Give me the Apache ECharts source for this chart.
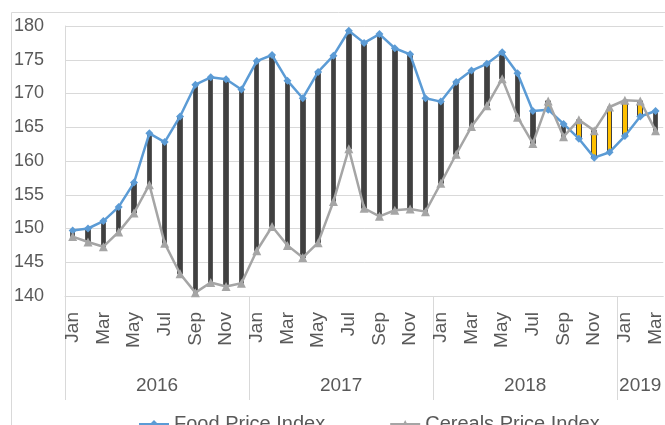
<!DOCTYPE html>
<html>
<head>
<meta charset="utf-8">
<script src="https://cdn.jsdelivr.net/npm/echarts@6/dist/echarts.min.js"></script>
<style>
  html, body { margin: 0; padding: 0; background: #fff; }
  #main { width: 665px; height: 425px; }
</style>
</head>
<body>
<div id="main"></div>
<script>
var monthNames = ['Jan', 'Feb', 'Mar', 'Apr', 'May', 'Jun', 'Jul', 'Aug', 'Sep', 'Oct', 'Nov', 'Dec'];
var years = ['2016', '2017', '2018', '2019'];
var monthsPerYear = [12, 12, 12, 3];

// Jan 2016 .. Mar 2019
var food = [
  149.7, 150.0, 151.1, 153.2, 156.8, 164.1, 162.8, 166.6, 171.3, 172.4, 172.1, 170.6,
  174.8, 175.7, 171.9, 169.3, 173.2, 175.6, 179.3, 177.5, 178.8, 176.7, 175.8, 169.3,
  168.8, 171.7, 173.4, 174.4, 176.1, 173.0, 167.4, 167.6, 165.5, 163.3, 160.5, 161.3,
  163.7, 166.6, 167.4
];
var cereals = [
  148.8, 148.0, 147.3, 149.5, 152.3, 156.5, 147.8, 143.3, 140.5, 142.0, 141.4, 141.9,
  146.7, 150.3, 147.5, 145.7, 147.9, 154.0, 161.8, 153.0, 151.8, 152.7, 152.9, 152.5,
  156.7, 161.0, 165.1, 168.2, 172.2, 166.5, 162.6, 168.9, 163.6, 166.1, 164.5, 168.0,
  169.0, 168.9, 164.5
];
var yTicks = [140, 145, 150, 155, 160, 165, 170, 175, 180];

var categories = [];
var yearStarts = [];
var yearMiddles = [];
for (var i = 0; i < years.length; i++) {
  yearStarts.push(categories.length);
  yearMiddles.push(categories.length + monthsPerYear[i] / 2);
  for (var m = 0; m < monthsPerYear[i]; m++) {
    categories.push(years[i] + ' ' + monthNames[m]);
  }
}

// up/down bars: open = food, close = cereals
var updown = [];
for (var k = 0; k < food.length; k++) {
  updown.push([food[k], cereals[k], Math.min(food[k], cereals[k]), Math.max(food[k], cereals[k])]);
}

var chart = echarts.init(document.getElementById('main'), null, { renderer: 'canvas' });
var font = "'Liberation Sans', Arial, sans-serif";
var option = {
  animation: false,
  textStyle: { fontFamily: font },
  graphic: [{
    type: 'rect',
    silent: true,
    shape: { x: 11.5, y: 12.5, width: 700, height: 500 },
    style: { fill: 'none', stroke: '#D9D9D9', lineWidth: 1 }
  }],
  legend: {
    data: ['Food Price Index', 'Cereals Price Index'],
    left: 133,
    top: 409,
    itemWidth: 30,
    itemHeight: 10,
    itemGap: 64,
    textStyle: { fontSize: 20, color: '#595959', fontFamily: font }
  },
  grid: {
    left: 65,
    top: 26,
    right: -4.5,
    bottom: 129,
    containLabel: false
  },
  xAxis: [{
    type: 'category',
    data: categories,
    boundaryGap: true,
    axisLine: { lineStyle: { color: '#D9D9D9' } },
    axisTick: { show: false },
    axisLabel: {
      interval: 1,
      rotate: 90,
      margin: 16,
      fontSize: 19,
      color: '#595959',
      fontFamily: font,
      formatter: function (v) { return v.split(' ')[1]; }
    }
  }, {
    type: 'value',
    position: 'bottom',
    min: 0,
    max: categories.length,
    axisLine: { show: false },
    splitLine: { show: false },
    axisTick: {
      show: true,
      customValues: yearStarts,
      length: 104,
      lineStyle: { color: '#D9D9D9' }
    },
    axisLabel: {
      customValues: yearMiddles,
      margin: 80,
      fontSize: 19,
      color: '#595959',
      fontFamily: font,
      formatter: function (v) {
        var idx = yearMiddles.indexOf(v);
        return idx >= 0 ? years[idx] : '';
      }
    }
  }],
  yAxis: {
    type: 'value',
    min: yTicks[0],
    max: yTicks[yTicks.length - 1],
    interval: 5,
    axisLine: { show: true, lineStyle: { color: '#D9D9D9' } },
    axisTick: { show: false },
    splitLine: { lineStyle: { color: '#D9D9D9' } },
    axisLabel: { fontSize: 18, color: '#595959', margin: 21, fontFamily: font }
  },
  series: [{
    name: 'updown',
    type: 'candlestick',
    xAxisIndex: 0,
    barWidth: 5,
    z: 2,
    itemStyle: {
      color: '#FFC000',
      borderColor: '#404040',
      color0: '#404040',
      borderColor0: '#595959',
      borderWidth: 1
    },
    data: updown
  }, {
    name: 'Food Price Index',
    type: 'line',
    xAxisIndex: 0,
    z: 3,
    symbol: 'diamond',
    symbolSize: 8,
    lineStyle: { color: '#5B9BD5', width: 2.5 },
    itemStyle: { color: '#5B9BD5' },
    data: food
  }, {
    name: 'Cereals Price Index',
    type: 'line',
    xAxisIndex: 0,
    z: 4,
    symbol: 'triangle',
    symbolSize: 9,
    lineStyle: { color: '#A5A5A5', width: 2.5 },
    itemStyle: { color: '#A5A5A5' },
    data: cereals
  }]
};
chart.setOption(option);
</script>
</body>
</html>
